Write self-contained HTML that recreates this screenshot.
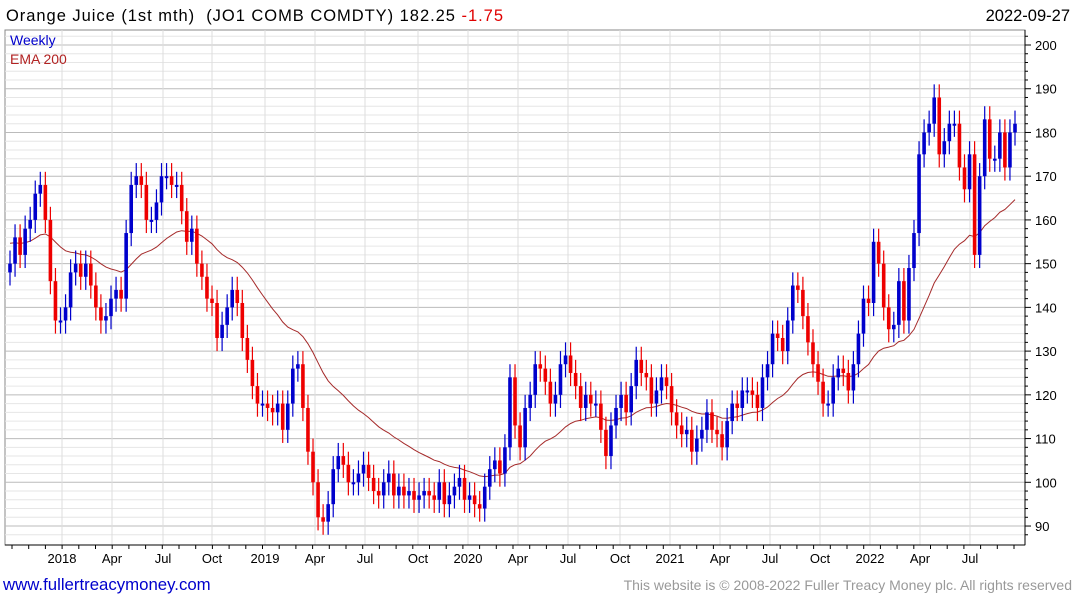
<!DOCTYPE html>
<html><head><meta charset="utf-8">
<style>
body{margin:0;width:1075px;height:600px;background:#fff;overflow:hidden;font-family:"Liberation Sans",sans-serif;}
svg text{font-family:"Liberation Sans",sans-serif;}
</style></head>
<body>
<svg id="chart" width="1075" height="600" xmlns="http://www.w3.org/2000/svg">
<text x="6" y="21" font-size="16.5" fill="#000" textLength="497" lengthAdjust="spacing" xml:space="preserve">Orange Juice (1st mth)  (JO1 COMB COMDTY) 182.25 <tspan fill="#e00000">-1.75</tspan></text>
<text x="1070" y="21" font-size="16.5" fill="#000" text-anchor="end">2022-09-27</text>
<rect x="5" y="30" width="1020" height="515" fill="none" stroke="#888"/>
<g id="grid"></g>
<g id="ema"></g>
<g id="candles"></g>
<g id="axes"></g>
<text x="10" y="45" font-size="14" fill="#0000cc">Weekly</text>
<text x="10" y="64" font-size="14" fill="#b22222">EMA 200</text>
<text x="3" y="590" font-size="16.8" fill="#0000cc">www.fullertreacymoney.com</text>
<text x="1072" y="590" font-size="14" fill="#999" text-anchor="end">This website is © 2008-2022 Fuller Treacy Money plc. All rights reserved</text>
</svg>
<script>
const closes=[150,156,152,158,160,166,168,160,146,137,137,140,148,150,147,150,145,140,137,138,142,144,142,157,168,170,168,160,160,164,170,170,168,168,162,
155,158,150,147,142,141,133,136,140,144,141,133,128,122,118,118,117,116,118,112,118,126,127,117,107,100,92,91,95,103,106,104,100,100,102,104,101,98,97,100,102,97,99,97,98,96,97,98,97,96,100,95,97,99,101,96,97,95,94,99,103,105,102,108,124,113,108,117,120,127,126,123,118,120,127,129,125,122,117,120,118,118,112,106,113,117,120,116,122,128,125,124,118,121,124,122,116,113,111,112,107,110,112,116,112,111,108,114,118,117,121,121,120,117,124,127,134,133,130,137,145,144,138,132,127,123,118,118,124,126,125,121,127,134,142,141,155,150,140,135,136,146,137,149,157,175,180,182,188,175,178,182,182,172,167,175,152,170,183,174,174,180,172,180,182];
const yTicks=[90,100,110,120,130,140,150,160,170,180,190,200];
const xLabels=["2018","Apr","Jul","Oct","2019","Apr","Jul","Oct","2020","Apr","Jul","Oct","2021","Apr","Jul","Oct","2022","Apr","Jul"];
const xLabelPos=[62,112,163,212,265,315,365,418,468,518,568,620,670,720,770,820,870,920,970];
const NS="http://www.w3.org/2000/svg";
const yOf=v=>45+(200-v)*4.373;
const xOf=i=>10+i*(1005/(closes.length-1));
function mk(tag,attrs,parent){const e=document.createElementNS(NS,tag);for(const k in attrs)e.setAttribute(k,attrs[k]);parent.appendChild(e);return e;}
const grid=document.getElementById('grid'),axes=document.getElementById('axes');
for(let v=88;v<=204;v+=2){const y=yOf(v);if(y<31||y>544)continue;
 const major=v%10===0;
 const l=mk('line',{x1:5,x2:1025,y1:y,y2:y,stroke:major?'#bbb':'#e6e6e6','stroke-width':1},grid);
 
 
 const t=mk('line',{x1:1025,x2:major?1031:1028,y1:y,y2:y,stroke:'#000'},axes);
 
 
}
yTicks.forEach(v=>{const t=mk('text',{x:1035,y:yOf(v)+5,'font-size':13,fill:'#000'},axes);t.textContent=v;
 
 });
xLabels.forEach((s,i)=>{const x=xLabelPos[i];
 const g=mk('line',{x1:x,x2:x,y1:30,y2:545,stroke:'#ddd'},grid);
 
 
 const t=mk('text',{x:x,y:563,'font-size':13,fill:'#000','text-anchor':'middle'},axes);t.textContent=s;
 
 });
for(let x=12;x<1025;x+=16.7){const t=mk('line',{x1:x,x2:x,y1:545,y2:549,stroke:'#000'},axes);
 
 }
mk('line',{x1:1025,x2:1025,y1:30,y2:545,stroke:'#000'},axes);
mk('line',{x1:5,x2:1025,y1:545,y2:545,stroke:'#000'},axes);
let e=155,pts=[];const a=2/32;
closes.forEach((c,i)=>{e=e+a*(c-e);pts.push(xOf(i).toFixed(1)+','+yOf(e).toFixed(1));});
const pl=mk('polyline',{points:pts.join(' '),fill:'none',stroke:'#a52a2a','stroke-width':1},document.getElementById('ema'));


const cg=document.getElementById('candles');
closes.forEach((c,i)=>{const o=i?closes[i-1]:c-2;const up=c>=o;const col=up?'#0000cc':'#ee0000';
 const x=xOf(i);const hi=Math.max(o,c)+3,lo=Math.min(o,c)-3;
 const w=mk('line',{x1:x,x2:x,y1:yOf(hi),y2:yOf(lo),stroke:col,'stroke-width':1.2},cg);
 
 
 const top=yOf(Math.max(o,c)),h=Math.max(2,yOf(Math.min(o,c))-top);
 const r=mk('rect',{x:x-1.8,y:top,width:3.6,height:h,fill:col},cg);
 
 
});
</script>
</body></html>
